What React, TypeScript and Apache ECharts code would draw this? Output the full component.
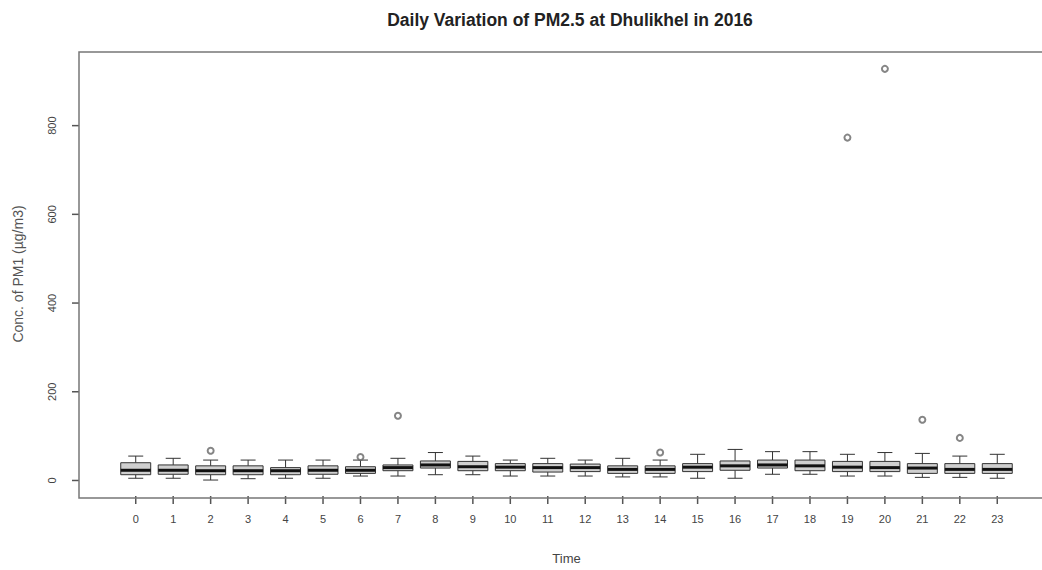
import React, { useEffect, useRef } from "react";
import * as echarts from "echarts";

const hours = ["0","1","2","3","4","5","6","7","8","9","10","11","12","13","14","15","16","17","18","19","20","21","22","23"];
const whiskerLow = [5, 5, 1, 4, 5, 5, 10, 10, 13, 13, 10, 10, 10, 8, 8, 5, 5, 14, 14, 10, 10, 7, 7, 5];
const q1 = [13, 14, 13, 13, 13, 14, 16, 22, 28, 22, 22, 19, 20, 16, 16, 20, 23, 28, 22, 20, 20, 16, 16, 16];
const median = [23, 23, 22, 22, 22, 23, 23, 29, 35, 31, 30, 29, 29, 25, 25, 30, 33, 35, 33, 30, 29, 28, 25, 25];
const q3 = [40, 35, 33, 33, 29, 33, 31, 35, 44, 43, 38, 38, 37, 33, 33, 38, 44, 46, 46, 43, 43, 38, 38, 38];
const whiskerHigh = [55, 50, 46, 46, 46, 46, 46, 50, 63, 55, 46, 50, 46, 50, 46, 59, 70, 65, 65, 59, 63, 61, 55, 59];
const outlierHour = [2, 6, 7, 14, 19, 20, 21, 22];
const outlierValue = [67, 53, 146, 63, 773, 928, 137, 96];
const yTicks = [0, 200, 400, 600, 800];
const Y_MIN = -35;
const Y_MAX = 966;

const FONT = "'Liberation Sans', Arial, sans-serif";
const LINE = "#777";
const TICK = "#555";
const GRID_LEFT = 117;
const GRID_RIGHT = 26;
const Y_OFFSET = 38;
const FRAME_X = GRID_LEFT - Y_OFFSET;
const BAND = (1042 - GRID_LEFT - GRID_RIGHT) / hours.length;

export default function App() {
  const ref = useRef<HTMLDivElement>(null);
  useEffect(() => {
    if (!ref.current) return;
    const chart = echarts.init(ref.current, null, { renderer: "svg" });
    const boxData = hours.map((_, i) => [i, whiskerLow[i], q1[i], median[i], q3[i], whiskerHigh[i]]);
    const outData = outlierHour.map((h, i) => [h, outlierValue[i]]);
    const xTickData = hours.map((_, i) => [i, Y_MIN]);
    const yTickData = yTicks.map((v) => [0, v]);
    chart.setOption({
      animation: false,
      backgroundColor: "#ffffff",
      textStyle: { fontFamily: FONT },
      title: {
        text: "Daily Variation of PM2.5 at Dhulikhel in 2016",
        left: 565,
        top: 6,
        textAlign: "center",
        textStyle: { fontFamily: FONT, fontSize: 17.5, fontWeight: "bold", color: "#222" },
      },
      grid: { left: GRID_LEFT, right: GRID_RIGHT, top: 52, bottom: 72, containLabel: false },
      xAxis: {
        type: "category",
        data: hours,
        boundaryGap: true,
        name: "Time",
        nameLocation: "middle",
        nameGap: 56,
        nameTextStyle: { fontFamily: FONT, fontSize: 13, color: "#444", verticalAlign: "top" },
        axisLine: { show: false, onZero: false },
        axisTick: { show: false },
        axisLabel: { interval: 0, margin: 17, fontFamily: FONT, fontSize: 11, color: "#444" },
        splitLine: { show: false },
      },
      yAxis: {
        type: "value",
        min: Y_MIN,
        max: Y_MAX,
        offset: Y_OFFSET,
        name: "Conc. of PM1 (µg/m3)",
        nameLocation: "middle",
        nameGap: 54,
        nameRotate: 90,
        nameTextStyle: { fontFamily: FONT, fontSize: 14, color: "#555" },
        axisLine: { show: false },
        axisTick: { show: false },
        axisLabel: { customValues: yTicks, rotate: 90, margin: 22, fontFamily: FONT, fontSize: 11, color: "#444" },
        splitLine: { show: false },
      },
      graphic: [
        {
          type: "rect",
          shape: { x: FRAME_X, y: 52, width: 990, height: 446 },
          style: { fill: "none", stroke: LINE, lineWidth: 1.5 },
          silent: true,
          z: 10,
        },
      ],
      series: [
        {
          type: "custom",
          name: "PM2.5",
          data: boxData,
          encode: { x: 0, y: [1, 2, 3, 4, 5] },
          z: 2,
          renderItem: (params: any, api: any) => {
            const xi = api.value(0);
            const pLow = api.coord([xi, api.value(1)]);
            const pQ1 = api.coord([xi, api.value(2)]);
            const pMed = api.coord([xi, api.value(3)]);
            const pQ3 = api.coord([xi, api.value(4)]);
            const pHigh = api.coord([xi, api.value(5)]);
            const cx = pMed[0];
            const half = api.size([1, 0])[0] * 0.4;
            const cap = half / 2;
            const thin = { stroke: "#333", lineWidth: 1 };
            return {
              type: "group",
              children: [
                { type: "line", shape: { x1: cx, y1: pQ3[1], x2: cx, y2: pHigh[1] }, style: thin },
                { type: "line", shape: { x1: cx, y1: pQ1[1], x2: cx, y2: pLow[1] }, style: thin },
                { type: "line", shape: { x1: cx - cap, y1: pHigh[1], x2: cx + cap, y2: pHigh[1] }, style: thin },
                { type: "line", shape: { x1: cx - cap, y1: pLow[1], x2: cx + cap, y2: pLow[1] }, style: thin },
                {
                  type: "rect",
                  shape: { x: cx - half, y: pQ3[1], width: half * 2, height: pQ1[1] - pQ3[1] },
                  style: { fill: "#cfcfcf", stroke: "#333", lineWidth: 1 },
                },
                {
                  type: "line",
                  shape: { x1: cx - half, y1: pMed[1], x2: cx + half, y2: pMed[1] },
                  style: { stroke: "#111", lineWidth: 3 },
                },
              ],
            };
          },
        },
        {
          type: "scatter",
          name: "xticks",
          data: xTickData,
          clip: false,
          silent: true,
          symbol: "rect",
          symbolSize: [1.5, 8],
          symbolOffset: [0, 4],
          itemStyle: { color: TICK, opacity: 1 },
          z: 6,
        },
        {
          type: "scatter",
          name: "yticks",
          data: yTickData,
          clip: false,
          silent: true,
          symbol: "rect",
          symbolSize: [7, 1.5],
          symbolOffset: [-(BAND / 2 + Y_OFFSET + 3.5), 0],
          itemStyle: { color: TICK, opacity: 1 },
          z: 6,
        },
        {
          type: "scatter",
          name: "outliers",
          data: outData,
          symbol: "emptyCircle",
          symbolSize: 6,
          itemStyle: { color: "#666", borderColor: "#666", borderWidth: 1 },
          z: 4,
        },
      ],
    });
    return () => chart.dispose();
  }, []);
  return (
    <div
      ref={ref}
      style={{ position: "absolute", left: 0, top: 0, width: 1042, height: 570 }}
    />
  );
}
